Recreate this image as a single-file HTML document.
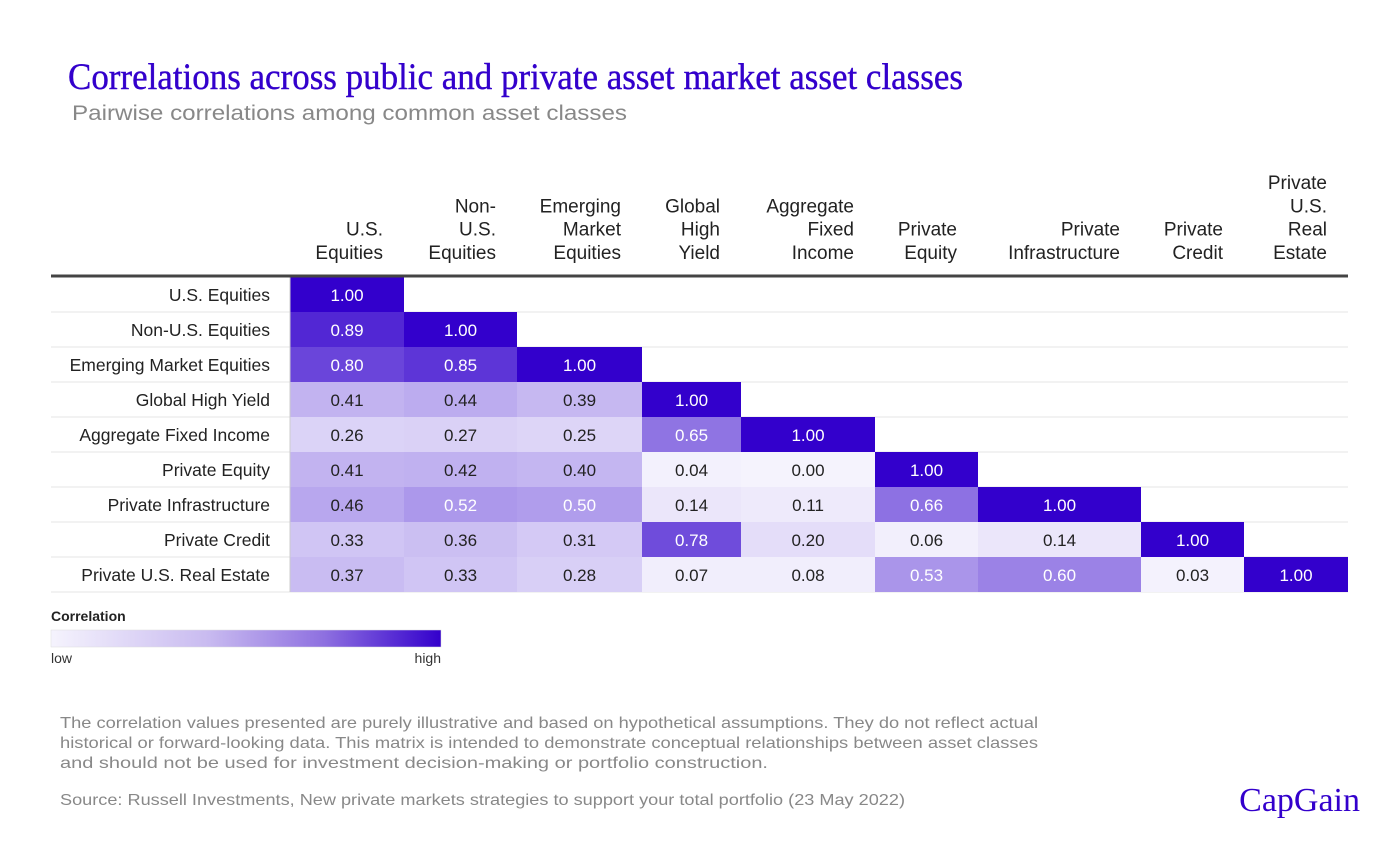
<!DOCTYPE html>
<html><head><meta charset="utf-8"><style>
body{margin:0;background:#fff;width:1400px;height:858px;overflow:hidden;font-family:"Liberation Sans",sans-serif}
</style></head><body>
<svg width="1400" height="858" font-family="Liberation Sans, sans-serif">
<defs><linearGradient id="lg" x1="0" x2="1"><stop offset="0" stop-color="#f5f3fd"/><stop offset="0.4" stop-color="#c9bbf0"/><stop offset="0.7" stop-color="#8e70e0"/><stop offset="1" stop-color="#3300cc"/></linearGradient></defs>
<text x="68" y="89" font-family="Liberation Serif, serif" font-size="37" fill="#3300cc" stroke="#3300cc" stroke-width="0.4" textLength="895" lengthAdjust="spacingAndGlyphs">Correlations across public and private asset market asset classes</text>
<text x="72" y="120" font-size="21" fill="#888" textLength="555" lengthAdjust="spacingAndGlyphs">Pairwise correlations among common asset classes</text>
<g id="grid"></g>
<g>
<text x="51" y="621" font-size="14" font-weight="bold" fill="#222">Correlation</text>
<rect x="51" y="630" width="390" height="17" fill="url(#lg)" stroke="#ddd" stroke-width="0.5"/>
<text x="51" y="663" font-size="14" fill="#333">low</text>
<text x="441" y="663" font-size="14" fill="#333" text-anchor="end">high</text>
</g>
<g font-size="16" fill="#888">
<text x="60" y="728" textLength="978" lengthAdjust="spacingAndGlyphs">The correlation values presented are purely illustrative and based on hypothetical assumptions. They do not reflect actual</text>
<text x="60" y="748" textLength="978" lengthAdjust="spacingAndGlyphs">historical or forward-looking data. This matrix is intended to demonstrate conceptual relationships between asset classes</text>
<text x="60" y="768" textLength="708" lengthAdjust="spacingAndGlyphs">and should not be used for investment decision-making or portfolio construction.</text>
<text x="60" y="805" textLength="845" lengthAdjust="spacingAndGlyphs">Source: Russell Investments, New private markets strategies to support your total portfolio (23 May 2022)</text>
</g>
<text x="1360" y="811" text-anchor="end" font-family="Liberation Serif, serif" font-size="34" fill="#3300cc">CapGain</text>
</svg>
<script>
const categories=["U.S. Equities","Non-U.S. Equities","Emerging Market Equities","Global High Yield","Aggregate Fixed Income","Private Equity","Private Infrastructure","Private Credit","Private U.S. Real Estate"];
const headerLines=[["U.S.","Equities"],["Non-","U.S.","Equities"],["Emerging","Market","Equities"],["Global","High","Yield"],["Aggregate","Fixed","Income"],["Private","Equity"],["Private","Infrastructure"],["Private","Credit"],["Private","U.S.","Real","Estate"]];
const values=[
[1.00],
[0.89,1.00],
[0.80,0.85,1.00],
[0.41,0.44,0.39,1.00],
[0.26,0.27,0.25,0.65,1.00],
[0.41,0.42,0.40,0.04,0.00,1.00],
[0.46,0.52,0.50,0.14,0.11,0.66,1.00],
[0.33,0.36,0.31,0.78,0.20,0.06,0.14,1.00],
[0.37,0.33,0.28,0.07,0.08,0.53,0.60,0.03,1.00]];
const colEdges=[290,404,517,642,741,875,978,1141,1244,1348];
const NS="http://www.w3.org/2000/svg";
const g=document.getElementById('grid');
const top0=277,rh=35;
function el(t,a){const e=document.createElementNS(NS,t);for(const k in a)e.setAttribute(k,a[k]);return e;}
function color(v){const t=Math.pow(Math.max(0,Math.min(1,v)),1.5);const a=[245,243,253],b=[51,0,204];return`rgb(${a.map((x,i)=>Math.round(x+(b[i]-x)*t)).join(',')})`;}
const yOf=i=>top0+i*rh;
headerLines.forEach((lines,c)=>{const xr=colEdges[c+1]-21;lines.forEach((ln,j)=>{const y=259-(lines.length-1-j)*23.3;const t=el('text',{x:xr,y:y,'text-anchor':'end','font-size':19,fill:'#222'});t.textContent=ln;


g.appendChild(t);});});
categories.forEach((cat,r)=>{
const y=yOf(r);
const line=el('line',{x1:51,x2:1348,y1:y+rh,y2:y+rh,stroke:'#e6e6e6','stroke-width':1});g.appendChild(line);
const lab=el('text',{x:270,y:y+24,'text-anchor':'end','font-size':17.5,fill:'#222'});lab.textContent=cat;


g.appendChild(lab);
values[r].forEach((v,c)=>{
const x0=colEdges[c],x1=colEdges[c+1];
const rc=el('rect',{x:x0,y:y,width:x1-x0,height:rh,fill:color(v)});


g.appendChild(rc);
const tx=el('text',{x:(x0+x1)/2,y:y+24,'text-anchor':'middle','font-size':17,fill:v>=0.5?'#fff':'#222'});tx.textContent=v.toFixed(2);


g.appendChild(tx);
});});
g.appendChild(el('line',{x1:290,x2:290,y1:top0,y2:yOf(9),stroke:'#ccc'}));
g.appendChild(el('line',{x1:51,x2:1348,y1:276,y2:276,stroke:'#444','stroke-width':3}));
</script>
</body></html>
